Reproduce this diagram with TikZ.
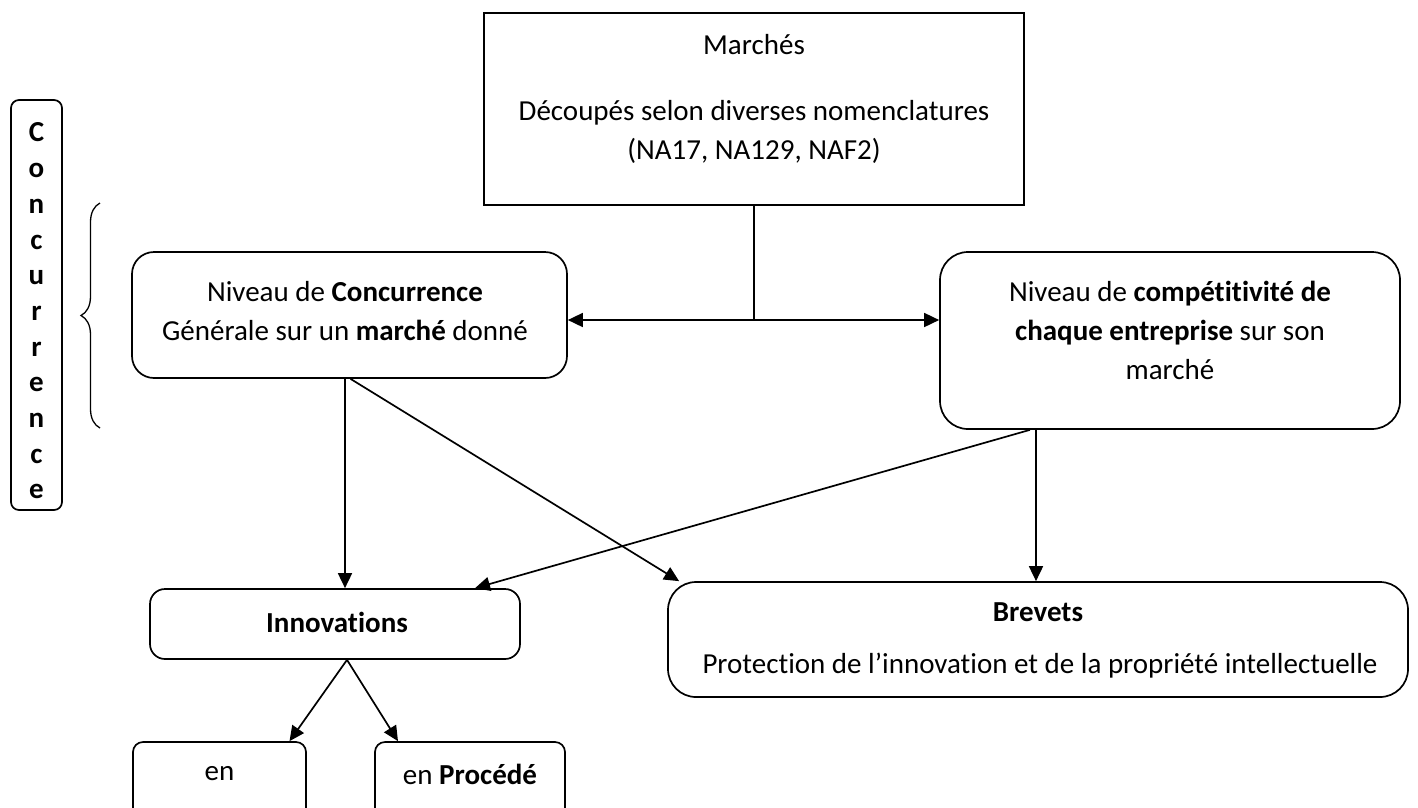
\documentclass[tikz,border=0pt]{standalone}
\usepackage{fontspec}
\setmainfont{Carlito}[Ligatures=NoCommon]
\usetikzlibrary{arrows.meta,calc,decorations.pathreplacing}
\begin{document}
\begin{tikzpicture}[x=1pt,y=-1pt,
  box/.style={draw,line width=1.7pt,inner sep=0pt},
  txt/.style={font=\fontsize{29}{39}\selectfont,align=center,inner sep=0pt},
  arr/.style={line width=1.7pt,-{Triangle[length=15pt,width=14pt]}},
  darr/.style={line width=1.7pt,{Triangle[length=15pt,width=14pt]}-{Triangle[length=15pt,width=14pt]}},
]
\useasboundingbox (0,0) rectangle (1418,807);
\clip (0,0) rectangle (1418,807);
% vertical Concurrence box
\node[box,rounded corners=8pt,minimum width=51pt,minimum height=410pt] (C) at (36.5,305) {};
\node[txt,font=\fontsize{29}{35.7}\selectfont\bfseries] (Ct) at (36.5,311) {C\\o\\n\\c\\u\\r\\r\\e\\n\\c\\e};
% brace
\coordinate (b1) at (100,428);
\coordinate (b2) at (100,203);
\draw[line width=1.3pt,decorate,decoration={brace,amplitude=19pt}] (b1) -- (b2);
% Marches
\node[box,minimum width=540pt,minimum height=192pt] (M) at (754,109) {};
\node[txt] (Mt1) at (754,45) {Marchés};
\node[txt] (Mt2) at (754,132) {Découpés selon diverses nomenclatures\\(NA17, NA129, NAF2)};
% left box
\node[box,rounded corners=22pt,minimum width=435pt,minimum height=126pt] (L) at (349.5,315) {};
\node[txt] (Lt) at (345,311) {Niveau de \textbf{Concurrence}\\Générale sur un \textbf{marché} donné};
% right box
\node[box,rounded corners=28pt,minimum width=460pt,minimum height=177pt] (R) at (1170,340.5) {};
\node[txt] (Rt) at (1170,330) {Niveau de \textbf{compétitivité de}\\\textbf{chaque entreprise} sur son\\marché};
% Innovations
\node[box,rounded corners=15pt,minimum width=370pt,minimum height=70pt] (I) at (335,624) {};
\node[txt,font=\fontsize{29}{39}\selectfont\bfseries] (It) at (337,622) {Innovations};
% Brevets
\node[box,rounded corners=28pt,minimum width=740pt,minimum height=115pt] (B) at (1038,639.5) {};
\node[txt,font=\fontsize{29}{39}\selectfont\bfseries] (Bt1) at (1038,612) {Brevets};
\node[txt] (Bt2) at (1040,666) {Protection de l’innovation et de la propriété intellectuelle};
% en boxes
\node[box,rounded corners=10pt,minimum width=173pt,minimum height=90pt] (E1) at (219.5,787) {};
\node[txt] (E1t) at (219.5,774) {en};
\node[box,rounded corners=10pt,minimum width=190pt,minimum height=90pt] (E2) at (470,787) {};
\node[txt] (E2t) at (470,774) {en \textbf{Procédé}};
% connectors
\coordinate (J) at (M.south |- 0,320);
\draw[line width=1.7pt] (M.south) -- (J);
\draw[darr] (L.east |- J) -- (R.west |- J);
\draw[arr] ([xshift=-4.5pt]L.south) -- ([xshift=-4.5pt]L.south |- I.north);
\draw[arr] ([xshift=1pt]L.south) -- ([xshift=12pt]B.north west);
\draw[arr] ([xshift=-140pt]R.south) -- ([xshift=140pt]I.north);
\draw[arr] ([xshift=-134pt]R.south) -- ([xshift=-134pt]R.south |- B.north);
\draw[arr] ([xshift=12pt]I.south) -- ([xshift=70pt]E1.north);
\draw[arr] ([xshift=12pt]I.south) -- ([xshift=-72pt]E2.north);
\end{tikzpicture}
\end{document}
